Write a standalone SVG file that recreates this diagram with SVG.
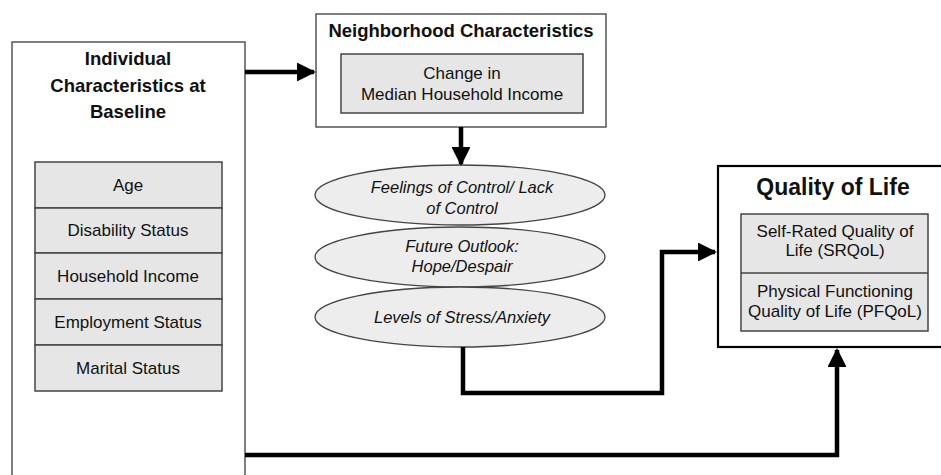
<svg xmlns="http://www.w3.org/2000/svg" width="941" height="475" viewBox="0 0 941 475">
<style>
.box{fill:#fff;stroke:#555;stroke-width:1.5}
.cell{fill:#e6e6e6;stroke:#444;stroke-width:1.5}
.ell{fill:#ededed;stroke:#444;stroke-width:1.3}
text{font-family:"Liberation Sans",Arial,sans-serif;fill:#111;text-anchor:middle}
.t{font-weight:bold;font-size:18.5px}
.c{font-size:17px}
.i{font-size:16.5px;font-style:italic}
.conn{fill:none;stroke:#000;stroke-width:4.5}
</style>
<defs>
<marker id="ah" viewBox="0 0 10 10" refX="9" refY="5" markerWidth="4.2" markerHeight="4.2" markerUnits="strokeWidth" orient="auto">
<path d="M0,0 L10,5 L0,10 z" fill="#000"/>
</marker>
</defs>
<g id="individual">
<rect class="box" x="12" y="42" width="233" height="445"/>
<text class="t" x="128" y="65">Individual</text>
<text class="t" x="128" y="92">Characteristics at</text>
<text class="t" x="128" y="118">Baseline</text>
<rect class="cell" x="35" y="162" width="187" height="46"/>
<text class="c" x="128" y="191">Age</text>
<rect class="cell" x="35" y="208" width="187" height="45"/>
<text class="c" x="128" y="236">Disability Status</text>
<rect class="cell" x="35" y="253" width="187" height="46"/>
<text class="c" x="128" y="282">Household Income</text>
<rect class="cell" x="35" y="299" width="187" height="46"/>
<text class="c" x="128" y="328">Employment Status</text>
<rect class="cell" x="35" y="345" width="187" height="46"/>
<text class="c" x="128" y="374">Marital Status</text>
</g>
<g id="neighborhood">
<rect class="box" x="316" y="14" width="290" height="113"/>
<text class="t" x="461" y="37">Neighborhood Characteristics</text>
<rect class="cell" x="341" y="54" width="242" height="59"/>
<text class="c" x="462" y="79">Change in</text>
<text class="c" x="462" y="100">Median Household Income</text>
</g>
<g id="mediators">
<ellipse class="ell" cx="460" cy="195" rx="145" ry="30"/>
<text class="i" x="462" y="193">Feelings of Control/ Lack</text>
<text class="i" x="462" y="214">of Control</text>
<ellipse class="ell" cx="460" cy="257" rx="145" ry="30"/>
<text class="i" x="462" y="252">Future Outlook:</text>
<text class="i" x="462" y="272">Hope/Despair</text>
<ellipse class="ell" cx="460" cy="317" rx="145" ry="30"/>
<text class="i" x="462" y="323">Levels of Stress/Anxiety</text>
</g>
<g id="qol">
<rect class="box" x="718" y="166" width="230" height="181" style="stroke:#000;stroke-width:2.2"/>
<text class="t" x="833" y="195" style="font-size:23px">Quality of Life</text>
<rect class="cell" x="741" y="214" width="187" height="117"/>
<line x1="741" y1="273" x2="928" y2="273" stroke="#444" stroke-width="1.5"/>
<text class="c" x="835" y="237">Self-Rated Quality of</text>
<text class="c" x="835" y="256">Life (SRQoL)</text>
<text class="c" x="835" y="297">Physical Functioning</text>
<text class="c" x="835" y="317">Quality of Life (PFQoL)</text>
</g>
<g id="connectors">
<path class="conn" d="M245,72 L314,72" marker-end="url(#ah)"/>
<path class="conn" d="M461,127 L461,164" marker-end="url(#ah)"/>
<path class="conn" d="M463,347 L463,393 L662,393 L662,252 L715,252" marker-end="url(#ah)"/>
<path class="conn" d="M245,455 L837,455 L837,350" marker-end="url(#ah)"/>
</g>
</svg>
